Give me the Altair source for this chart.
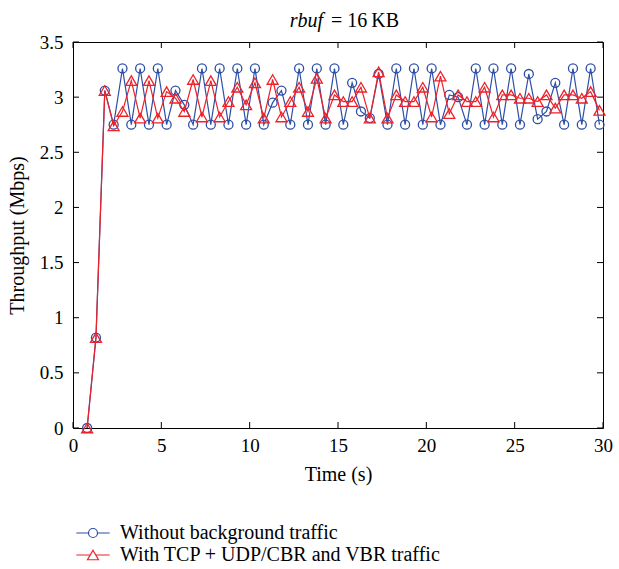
import altair as alt
import pandas as pd

# Sample times (s)
time_s = [0.8, 1.3, 1.8, 2.3, 2.8, 3.3, 3.8, 4.3, 4.8, 5.3,
          5.8, 6.3, 6.8, 7.3, 7.8, 8.3, 8.8, 9.3, 9.8, 10.3,
          10.8, 11.3, 11.8, 12.3, 12.8, 13.3, 13.8, 14.3, 14.8, 15.3,
          15.8, 16.3, 16.8, 17.3, 17.8, 18.3, 18.8, 19.3, 19.8, 20.3,
          20.8, 21.3, 21.8, 22.3, 22.8, 23.3, 23.8, 24.3, 24.8, 25.3,
          25.8, 26.3, 26.8, 27.3, 27.8, 28.3, 28.8, 29.3, 29.8]

# Throughput (Mbps) without background traffic
without_bg = [0.0, 0.82, 3.06, 2.75, 3.26, 2.75, 3.26, 2.75, 3.26, 2.75,
              3.06, 2.93, 2.75, 3.26, 2.75, 3.26, 2.75, 3.26, 2.75, 3.26,
              2.75, 2.95, 3.06, 2.75, 3.26, 2.75, 3.26, 2.75, 3.26, 2.75,
              3.13, 2.87, 2.81, 3.21, 2.75, 3.26, 2.75, 3.26, 2.75, 3.26,
              2.75, 3.02, 3.00, 2.75, 3.26, 2.75, 3.26, 2.75, 3.26, 2.75,
              3.21, 2.80, 2.87, 3.13, 2.75, 3.26, 2.75, 3.26, 2.75]

# Throughput (Mbps) with TCP + UDP/CBR and VBR traffic
with_bg = [0.0, 0.82, 3.06, 2.74, 2.87, 3.15, 2.81, 3.15, 2.81, 3.05,
           2.99, 2.87, 3.16, 2.82, 3.15, 2.82, 2.96, 3.09, 2.93, 3.13,
           2.81, 3.16, 2.82, 2.96, 3.09, 2.87, 3.17, 2.81, 3.02, 2.96,
           2.96, 3.09, 2.81, 3.23, 2.81, 3.02, 2.96, 2.96, 3.09, 2.82,
           3.19, 2.85, 3.02, 2.96, 2.96, 3.09, 2.82, 3.02, 3.02, 2.99,
           2.99, 2.96, 3.02, 2.90, 3.02, 3.02, 2.99, 3.05, 2.88]

series_names = ["Without background traffic", "With TCP + UDP/CBR and VBR traffic"]
series_colors = ["#2d4ea6", "#ee2129"]

x_ticks = [0, 5, 10, 15, 20, 25, 30]
y_ticks = [0, 0.5, 1, 1.5, 2, 2.5, 3, 3.5]

FONT = "Liberation Serif"
W, H = 530, 386

df = pd.DataFrame({
    "time": time_s * 2,
    "throughput": without_bg + with_bg,
    "series": [series_names[0]] * len(time_s) + [series_names[1]] * len(time_s),
})

x_scale = alt.Scale(domain=[0, 30], nice=False, zero=False)
y_scale = alt.Scale(domain=[0, 3.5], nice=False)
color_scale = alt.Scale(domain=series_names, range=series_colors)

x_enc = alt.X("time:Q", scale=x_scale,
              axis=alt.Axis(title="Time (s)", values=x_ticks, format="~g",
                            ticks=False, tickSize=0, domain=False, grid=False,
                            labelPadding=8, labelFlush=False, titlePadding=9))
y_enc = alt.Y("throughput:Q", scale=y_scale,
              axis=alt.Axis(title="Throughput (Mbps)", values=y_ticks, format="~g",
                            ticks=False, tickSize=0, domain=False, grid=False,
                            labelPadding=10, labelFlush=False, titlePadding=12))

base = alt.Chart(df)


def series_layers(name, color, shape, size):
    sel = base.transform_filter(alt.datum.series == name)
    line = sel.mark_line(strokeWidth=1.2, color=color).encode(x=x_enc, y=y_enc)
    pts = sel.mark_point(filled=False, shape=shape, size=size, strokeWidth=1.3,
                         opacity=1, color=color).encode(x=x_enc, y=y_enc)
    return [line, pts]


layers = series_layers(series_names[0], series_colors[0], "circle", 81) + \
    series_layers(series_names[1], series_colors[1], "triangle-up", 121)

# Legend symbols: a short line segment with the series marker in the middle
legend_circle = "M-3.7,0L-1,0M1,0L3.7,0M1,0A1,1,0,1,1,-1,0A1,1,0,1,1,1,0Z"
legend_triangle = "M-3.7,0L-0.61,0M0.61,0L3.7,0M0,-1.06L1.22,1.06L-1.22,1.06Z"

legend_def = alt.Legend(orient="none", legendX=10, legendY=481, title=None,
                        labelFont=FONT, labelFontSize=20, labelColor="black",
                        symbolSize=81, symbolStrokeWidth=1.2, symbolOpacity=1,
                        labelOffset=17, rowPadding=2, padding=0, labelLimit=500)
legend_layer = base.transform_filter("false").mark_point(filled=False, opacity=1).encode(
    x=x_enc,
    y=y_enc,
    color=alt.Color("series:N", scale=color_scale, legend=legend_def),
    shape=alt.Shape("series:N",
                    scale=alt.Scale(domain=series_names,
                                    range=[legend_circle, legend_triangle]),
                    legend=legend_def),
)

# Inward tick marks on all four sides of the frame
xt = alt.Chart(pd.DataFrame({"time": x_ticks}))
yt = alt.Chart(pd.DataFrame({"throughput": y_ticks}))
tick_layers = [
    xt.mark_rule(color="black", strokeWidth=1).encode(x=x_enc, y=alt.value(H), y2=alt.value(H - 6)),
    xt.mark_rule(color="black", strokeWidth=1).encode(x=x_enc, y=alt.value(0), y2=alt.value(6)),
    yt.mark_rule(color="black", strokeWidth=1).encode(y=y_enc, x=alt.value(0), x2=alt.value(6)),
    yt.mark_rule(color="black", strokeWidth=1).encode(y=y_enc, x=alt.value(W), x2=alt.value(W - 6)),
]

# Title: italic variable name followed by its value
one = pd.DataFrame({"k": [0]})
title_var = alt.Chart(one).mark_text(font=FONT, fontSize=20, fontStyle="italic",
                                     align="right", baseline="alphabetic").encode(
    x=alt.value(250), y=alt.value(-15), text=alt.value("rbuf"))
title_val = alt.Chart(one).mark_text(font=FONT, fontSize=20, align="left",
                                     baseline="alphabetic").encode(
    x=alt.value(258), y=alt.value(-15), text=alt.value("= 16\u2009KB"))

chart = alt.layer(*layers, legend_layer, *tick_layers, title_var, title_val).properties(
    width=W, height=H,
    padding={"left": 73, "top": 42, "right": 16, "bottom": 141},
    autosize=alt.AutoSizeParams(type="none"),
    background="white",
).configure_view(
    stroke="black", strokeWidth=1
).configure_axis(
    labelFont=FONT, labelFontSize=19, labelColor="black",
    titleFont=FONT, titleFontSize=20, titleFontWeight="normal", titleColor="black",
)

chart.save("out.html", embed_options={"renderer": "svg", "actions": False})
